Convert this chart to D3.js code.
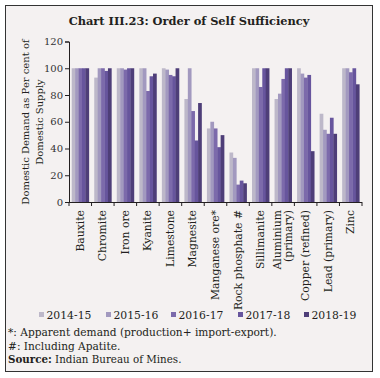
<!DOCTYPE html>
<html><head><meta charset="utf-8">
<script src="https://cdn.jsdelivr.net/npm/d3@7"></script>
<style>body{margin:0;background:#fff}svg{display:block}</style>
</head><body>
<svg id="c" width="380" height="378"></svg>
<script>
const categories = ["Bauxite","Chromite","Iron ore","Kyanite","Limestone","Magnesite","Manganese ore*","Rock phosphate #","Sillimanite","Aluminium\n(primary)","Copper (refined)","Lead (primary)","Zinc"];
const seriesNames = ["2014-15","2015-16","2016-17","2017-18","2018-19"];
const s2014_15 = [100, 93, 100, 100, 100, 77, 55, 37, 100, 77, 100, 66, 100];
const s2015_16 = [100, 100, 100, 100, 99, 100, 60, 33, 100, 81, 96, 54, 100];
const s2016_17 = [100, 100, 99, 83, 95, 68, 55, 13, 86, 92, 93, 51, 97];
const s2017_18 = [100, 98, 100, 94, 94, 46, 41, 16, 100, 100, 95, 63, 100];
const s2018_19 = [100, 100, 100, 96, 100, 74, 50, 14, 100, 100, 38, 51, 88];
const yTicks = [0, 20, 40, 60, 80, 100, 120];
const colors = ["#bdb8c9", "#a299bf", "#7c6aab", "#67559d", "#4e3e78"];
const series = [s2014_15, s2015_16, s2016_17, s2017_18, s2018_19];
const footnotes = ["*: Apparent demand (production+ import-export).", "#: Including Apatite."];
const sourceLabel = "Source:";
const sourceText = " Indian Bureau of Mines.";
const title = "Chart III.23: Order of Self Sufficiency";
const yTitle = ["Domestic Demand as Per cent of", "Domestic Supply"];

const svg = d3.select("#c");
const font = "'DejaVu Serif', serif";
const ink = "#231f20";

svg.append("rect").attr("x", 5.5).attr("y", 5.5).attr("width", 367).attr("height", 366)
  .attr("fill", "#f4f1f1").attr("stroke", "#333").attr("stroke-width", 1);

svg.append("text").attr("x", 189).attr("y", 25).attr("text-anchor", "middle")
  .attr("font-family", font).attr("font-weight", "bold").attr("font-size", 11.4)
  .attr("fill", ink).text(title);

const pLeft = 69, pRight = 362, pTop = 41.5, pBottom = 202;
const x0 = d3.scaleBand().domain(categories).range([pLeft, pRight]).paddingInner(0.24).paddingOuter(0.12);
const x1 = d3.scaleBand().domain(seriesNames).range([0, x0.bandwidth()]);
const y = d3.scaleLinear().domain([0, 120]).range([pBottom, pTop]);

// bars
const g = svg.append("g");
categories.forEach((c, i) => {
  seriesNames.forEach((s, j) => {
    g.append("rect")
      .attr("x", x0(c) + x1(s))
      .attr("y", y(series[j][i]))
      .attr("width", x1.bandwidth() + 0.3)
      .attr("height", y(0) - y(series[j][i]))
      .attr("fill", colors[j]);
  });
});

// y axis
const yAxis = svg.append("g").attr("transform", `translate(${pLeft},0)`)
  .call(d3.axisLeft(y).tickValues(yTicks).tickSize(4).tickPadding(2));
yAxis.select(".domain").attr("stroke", ink);
yAxis.selectAll(".tick line").attr("stroke", ink);
yAxis.selectAll("text").attr("font-family", font).attr("font-size", 10).attr("fill", "#333");

// x axis line with boundary ticks
const step = x0.step();
const bounds = categories.map(c => x0(c) - step * x0.paddingInner() / 2).concat([pRight]);
svg.append("line").attr("x1", pLeft).attr("x2", pRight).attr("y1", pBottom + 0.5).attr("y2", pBottom + 0.5).attr("stroke", ink);
bounds.forEach(b => {
  svg.append("line").attr("x1", b).attr("x2", b).attr("y1", pBottom).attr("y2", pBottom + 4).attr("stroke", ink);
});

// category labels
categories.forEach(c => {
  const lines = c.split("\n");
  const cx = x0(c) + x0.bandwidth() / 2;
  lines.forEach((ln, k) => {
    const off = (k - (lines.length - 1) / 2) * 10.5;
    svg.append("text")
      .attr("transform", `translate(${cx + off},${pBottom + 8}) rotate(-90)`)
      .attr("text-anchor", "end").attr("dominant-baseline", "central")
      .attr("font-family", font).attr("font-size", 10.8).attr("fill", ink).text(ln);
  });
});

// y title
yTitle.forEach((t, k) => {
  svg.append("text").attr("transform", `translate(${25 + k * 14},122) rotate(-90)`)
    .attr("text-anchor", "middle").attr("dominant-baseline", "central")
    .attr("font-family", font).attr("font-size", 10).attr("fill", ink).text(t);
});

// legend
const legendX = [39, 106, 171, 238, 304];
seriesNames.forEach((s, j) => {
  svg.append("rect").attr("x", legendX[j]).attr("y", 312).attr("width", 5).attr("height", 5).attr("fill", colors[j]);
  svg.append("text").attr("x", legendX[j] + 7.5).attr("y", 318.5)
    .attr("font-family", font).attr("font-size", 10.8).attr("fill", ink).text(s);
});

// footnotes
footnotes.forEach((f, k) => {
  svg.append("text").attr("x", 8).attr("y", 336 + k * 13.5)
    .attr("font-family", font).attr("font-size", 10.6).attr("fill", ink).text(f);
});
const src = svg.append("text").attr("x", 8).attr("y", 363)
  .attr("font-family", font).attr("font-size", 10.3).attr("fill", ink);
src.append("tspan").attr("font-weight", "bold").text(sourceLabel);
src.append("tspan").text(sourceText);
</script>
</body></html>
